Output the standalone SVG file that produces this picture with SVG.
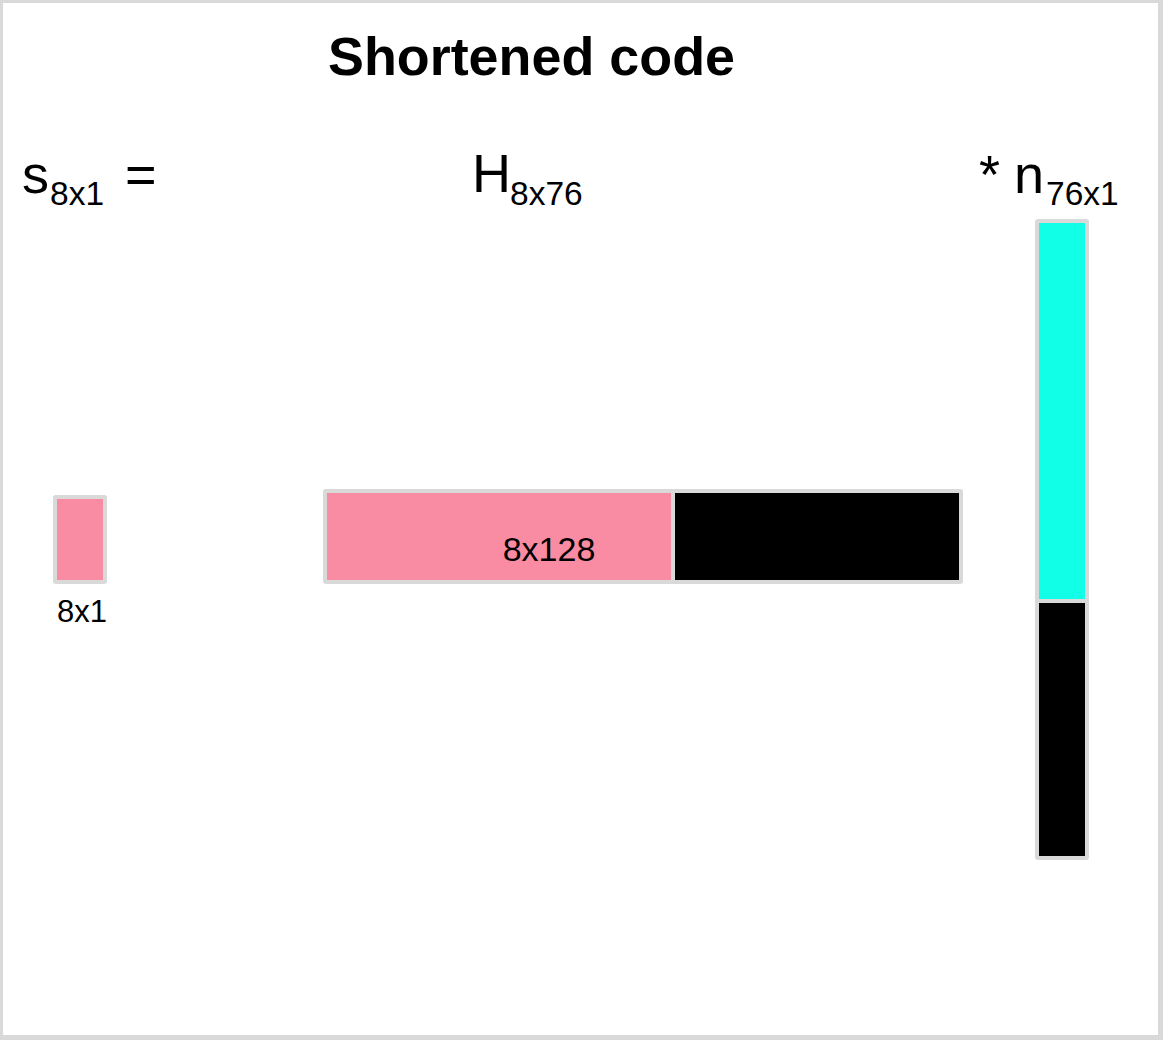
<svg xmlns="http://www.w3.org/2000/svg" width="1163" height="1040" viewBox="0 0 1163 1040">
  <style>
    text { font-family: "Liberation Sans", Arial, sans-serif; fill: #000; }
    .title { font-size: 54px; font-weight: bold; }
    .sym { font-size: 54px; }
    .sub { font-size: 33.5px; }
    .lbl { font-size: 31px; }
    .lbl2 { font-size: 34px; }
    .blk { stroke: #d9d9d9; stroke-width: 4; }
    .pink { fill: #f98ca2; }
    .cyan { fill: #10ffe6; }
    .dark { fill: #000; }
  </style>

  <!-- frame -->
  <rect x="0" y="0" width="1163" height="1040" fill="#d9d9d9"/>
  <rect x="3" y="3" width="1155" height="1032" fill="#fff"/>

  <text class="title" x="328" y="75" textLength="407" lengthAdjust="spacingAndGlyphs">Shortened code</text>

  <!-- equation labels -->
  <g id="label-s">
    <text class="sym" x="22" y="193">s</text>
    <text class="sub" x="50" y="205">8x1</text>
    <text class="sym" x="125" y="193">=</text>
  </g>
  <g id="label-H">
    <text class="sym" x="472" y="192">H</text>
    <text class="sub" x="510" y="205">8x76</text>
  </g>
  <g id="label-n">
    <text class="sym" x="979" y="193">*</text>
    <text class="sym" x="1014" y="193">n</text>
    <text class="sub" x="1046" y="205">76x1</text>
  </g>

  <!-- syndrome vector s -->
  <g id="s-vector">
    <rect class="blk pink" x="55" y="497" width="50" height="85" rx="1"/>
    <text class="lbl" x="82" y="622" text-anchor="middle">8x1</text>
  </g>

  <!-- parity-check matrix H -->
  <g id="H-matrix">
    <rect class="blk pink" x="325" y="491" width="348" height="91" rx="1"/>
    <rect class="blk dark" x="673" y="491" width="288" height="91" rx="1"/>
    <text class="lbl2" x="549" y="561" text-anchor="middle">8x128</text>
  </g>

  <!-- noise vector n -->
  <g id="n-vector">
    <rect class="blk cyan" x="1037" y="221" width="50" height="380" rx="1"/>
    <rect class="blk dark" x="1037" y="601" width="50" height="257" rx="1"/>
  </g>

  <g id="connectors"/>
</svg>
